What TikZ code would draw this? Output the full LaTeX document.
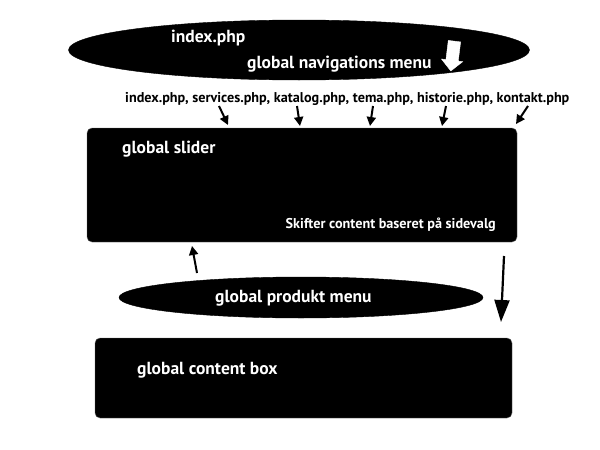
\documentclass[tikz,border=0pt]{standalone}
\usepackage{fontspec}
\setmainfont{PT Sans}
\usetikzlibrary{shapes.geometric,shapes.arrows,arrows.meta,positioning}
\tikzset{
	blackoval/.style={
		draw=black, ellipse, fill=black,
		inner sep=0pt
	},
	blackbox/.style={
		draw=black!60, rectangle, rounded corners=5pt, fill=black,
		inner sep=0pt
	},
	whitetext/.style={
		text=white, font=\bfseries\fontsize{17.5}{20}\selectfont,
		inner sep=0pt, anchor=base west
	},
	smalltext/.style={
		font=\bfseries\fontsize{14.2}{16}\selectfont, inner sep=0pt
	},
	smallarrow/.style={-{Triangle[length=9pt,width=9pt]}, line width=2pt},
	bigarrow/.style={-{Triangle[length=22pt,width=15pt]}, line width=2.2pt}
}

\begin{document}
\begin{tikzpicture}[x=1pt,y=-1pt]
				\useasboundingbox (0,0) rectangle (600,450);
				% top menu
				\node[blackoval, minimum width=461pt, minimum height=60pt] (navmenu) at (299,50) {};
				\node[whitetext] (indextext) at (171,42) {index.php};
				\node[whitetext] (navtext) at (247,68) {global navigations menu};
				\node[single arrow, fill=white, draw=white, rotate=-97, minimum height=30pt,
					single arrow head extend=4.5pt, inner sep=6pt] (whitearrow) at (453,53) {};
				% page list
				\node[smalltext, anchor=base west] (pages) at (125,102)
					{index.php, services.php, katalog.php, tema.php, historie.php, kontakt.php};
				% slider
				\node[blackbox, minimum width=430pt, minimum height=114pt] (slider) at (302,185) {};
				\node[whitetext] (slidertext) at (122,153) {global slider};
				\node[whitetext, anchor=base east, font=\bfseries\fontsize{14.2}{16}\selectfont] (skifter) at (496,228)
					{Skifter content baseret på sidevalg};
				\foreach \sx in {219, 297, 373, 446, 528}
					\coordinate (from\sx) at (\sx,106);
				\draw[smallarrow] (from219) -- (228,125);
				\draw[smallarrow] (from297) -- (300,126);
				\draw[smallarrow] (from373) -- (370,126);
				\draw[smallarrow] (from446) -- (442,126);
				\draw[smallarrow] (from528) -- (516,124);
				% product menu
				\node[blackoval, minimum width=364pt, minimum height=41pt] (prodmenu) at (301,297.5) {};
				\node[whitetext] (prodtext) at (215,302) {global produkt menu};
				\coordinate (upstart) at (197,273);
				\coordinate (upend) at (192,246);
				\draw[smallarrow] (upstart) -- (upend);
				% content box
				\node[blackbox, minimum width=417pt, minimum height=80pt] (content) at (303.5,378) {};
				\node[whitetext] (contenttext) at (137,374) {global content box};
				\coordinate (downstart) at (504,256);
				\coordinate (downend) at (501,322);
				\draw[bigarrow] (downstart) -- (downend);
			\end{tikzpicture}
\end{document}
